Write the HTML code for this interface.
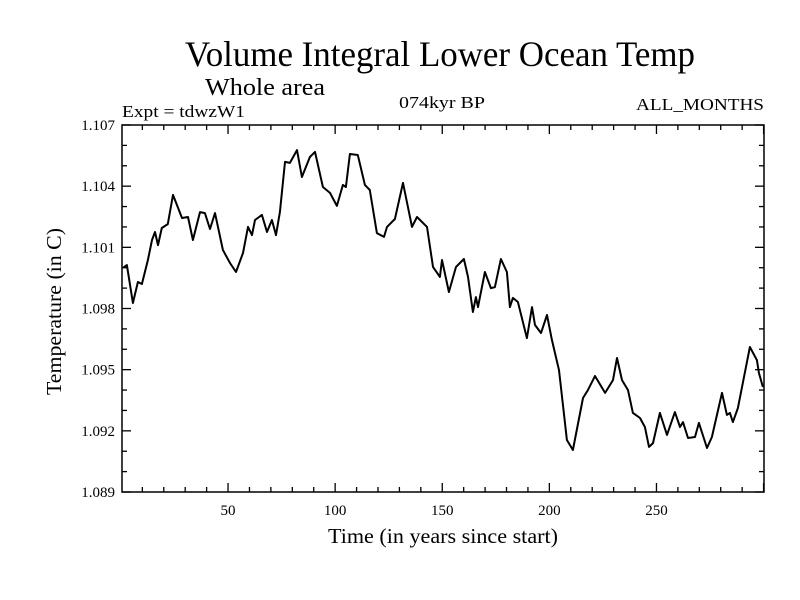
<!DOCTYPE html>
<html><head><meta charset="utf-8"><style>
html,body{margin:0;padding:0;background:#fff;}
svg{display:block;font-family:"Liberation Serif",serif;}
</style></head><body>
<svg id="chart" width="800" height="600" viewBox="0 0 800 600">
<rect width="800" height="600" fill="#fff"/>
<text x="185" y="66" font-size="36" textLength="510" lengthAdjust="spacingAndGlyphs">Volume Integral Lower Ocean Temp</text>
<text x="205" y="95" font-size="24" textLength="120" lengthAdjust="spacingAndGlyphs">Whole area</text>
<text x="122" y="117" font-size="17" textLength="123" lengthAdjust="spacingAndGlyphs">Expt = tdwzW1</text>
<text x="399" y="108" font-size="17" textLength="86" lengthAdjust="spacingAndGlyphs">074kyr BP</text>
<text x="636" y="110" font-size="17" textLength="128" lengthAdjust="spacingAndGlyphs">ALL_MONTHS</text>
<text x="328" y="543" font-size="21" textLength="230" lengthAdjust="spacingAndGlyphs">Time (in years since start)</text>
<text transform="translate(61,395) rotate(-90)" font-size="21" textLength="167" lengthAdjust="spacingAndGlyphs">Temperature (in C)</text>
<g id="axes"></g>
<path id="series" fill="none" stroke="#000" stroke-width="2" stroke-linejoin="round"/>
<rect x="122" y="125" width="642" height="367" fill="none" stroke="#000" stroke-width="1.5"/>
</svg>
<script>
const years=[1,2.8,5.6,7.9,9.8,12.6,14.5,15.9,17.3,19.1,21.9,24.3,28.5,31.3,33.6,36.9,39.2,41.6,43.9,47.6,50.9,53.7,57,59.3,61.2,62.6,65.8,68.2,70.5,72.4,74.2,76.6,78.9,82.2,84.5,88.2,90.6,94.3,97.6,100.8,103.6,105,106.9,110.6,113.9,116.2,119.5,122.8,124.2,127.9,131.7,135.9,138.2,142.9,145.7,148.9,149.9,153.1,156.4,160.1,162,164.3,165.7,166.7,169.9,172.7,174.6,177.4,180.2,181.6,183,185.3,189.5,191.9,193.3,196.1,198.9,201.2,204.5,208.2,211,215.7,218,221.3,226,229.7,231.6,233.9,236.7,239,242.3,244.6,246.5,248.4,251.6,254.9,258.6,261,262.4,264.7,268,269.8,273.6,275.9,280.6,282.9,284.3,285.7,288,293.6,296.9,297.8,299.7];
const temps=[1.1000,1.10013,1.09827,1.0993,1.0992,1.10038,1.10136,1.10175,1.10111,1.10195,1.10214,1.10357,1.10244,1.10249,1.10136,1.10273,1.10268,1.1019,1.10268,1.10087,1.10023,1.09979,1.10072,1.102,1.1016,1.10234,1.10259,1.10175,1.10234,1.1016,1.10273,1.10519,1.10514,1.10577,1.10445,1.10543,1.10568,1.10396,1.10367,1.10303,1.10406,1.10396,1.10558,1.10553,1.10406,1.10381,1.1017,1.10151,1.102,1.10239,1.10416,1.102,1.10249,1.102,1.10004,1.09955,1.10038,1.09881,1.10004,1.10043,1.09955,1.09783,1.09856,1.09807,1.09979,1.099,1.09905,1.10043,1.09979,1.09807,1.09852,1.09832,1.09655,1.09807,1.09719,1.0968,1.09768,1.09646,1.09498,1.09155,1.09106,1.09361,1.094,1.09469,1.09386,1.09449,1.09557,1.09449,1.094,1.09288,1.09263,1.09219,1.09121,1.0914,1.09288,1.0918,1.09292,1.09219,1.09243,1.09165,1.0917,1.09239,1.09116,1.0917,1.09386,1.09278,1.09288,1.09243,1.09312,1.09611,1.09547,1.09484,1.09415];
const xTickLabels=[50,100,150,200,250];
const yTickLabels=["1.089","1.092","1.095","1.098","1.101","1.104","1.107"];
const X0=122,X1=764,Y0=492,Y1=125,XMIN=0.5,XMAX=300.2,YMIN=1.089,YMAX=1.107;
const sx=v=>X0+(v-XMIN)/(XMAX-XMIN)*(X1-X0);
const sy=v=>Y0-(v-YMIN)/(YMAX-YMIN)*(Y0-Y1);
const NS="http://www.w3.org/2000/svg";
const g=document.getElementById('axes');
function line(x1,y1,x2,y2){const l=document.createElementNS(NS,'line');l.setAttribute('x1',x1);l.setAttribute('y1',y1);l.setAttribute('x2',x2);l.setAttribute('y2',y2);l.setAttribute('stroke','#000');l.setAttribute('stroke-width','1.3');


g.appendChild(l);}
function txt(x,y,s,anchor,size){const t=document.createElementNS(NS,'text');t.setAttribute('x',x);t.setAttribute('y',y);t.setAttribute('text-anchor',anchor);t.setAttribute('font-size',size);t.textContent=s;


g.appendChild(t);return t;}
for(let v=10;v<=300;v+=10){const x=sx(v);const L=(v%50===0)?9:5;line(x,Y0,x,Y0-L);line(x,Y1,x,Y1+L);}
xTickLabels.forEach(v=>txt(sx(v),515,String(v),'middle',15));
for(let i=0;i<=18;i++){const v=YMIN+i*0.001;const y=sy(v);const L=(i%3===0)?9:5;line(X0,y,X0+L,y);line(X1,y,X1-L,y);}
yTickLabels.forEach(s=>txt(115,sy(parseFloat(s))+5,s,'end',15));
let d='';years.forEach((yr,i)=>{d+=(i?'L':'M')+sx(yr).toFixed(1)+','+sy(temps[i]).toFixed(1);});
document.getElementById('series').setAttribute('d',d);
</script>
</body></html>
